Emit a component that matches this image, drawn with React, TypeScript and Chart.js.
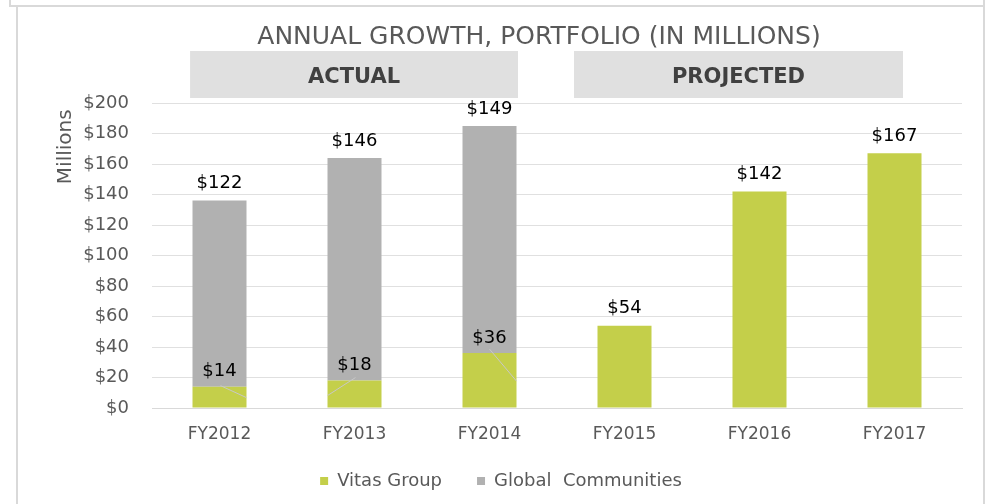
import { useEffect, useRef } from "react";
import { Chart, registerables } from "chart.js";

Chart.register(...registerables);

const categories = ["FY2012", "FY2013", "FY2014", "FY2015", "FY2016", "FY2017"];
const vitasGroup = [14, 18, 36, 54, 142, 167];
const globalCommunities: (number | null)[] = [122, 146, 149, null, null, null];
const headerLabels = ["ACTUAL", "PROJECTED"];
const titleText = "ANNUAL GROWTH, PORTFOLIO (IN MILLIONS)";

const GREEN = "#c4cf4a";
const GRAY = "#b1b1b1";
const TEXT = "#595959";
const FONT = "'DejaVu Sans', Verdana, sans-serif";

const decorPlugin = {
  id: "decor",
  afterLayout(chart: any) {
    // let the category labels draw below the (shortened) x-axis box
    chart.scales.x.bottom += 30;
  },
  afterDraw(chart: any) {
    const ctx = chart.ctx;
    const x = chart.scales.x;
    const area = chart.chartArea;
    const cw = x.getPixelForValue(1) - x.getPixelForValue(0);
    ctx.save();
    // title
    ctx.fillStyle = TEXT;
    ctx.font = `25px ${FONT}`;
    ctx.textAlign = "center";
    ctx.textBaseline = "middle";
    ctx.fillText(titleText, 539, 37);
    // header boxes
    const spans = [
      [x.getPixelForValue(0) - 0.218 * cw, x.getPixelForValue(2) + 0.211 * cw],
      [x.getPixelForValue(3) - 0.374 * cw, x.getPixelForValue(5) + 0.063 * cw],
    ];
    spans.forEach((s, i) => {
      const top = area.top - 52;
      const bottom = area.top - 5;
      ctx.fillStyle = "#e0e0e0";
      ctx.fillRect(s[0], top, s[1] - s[0], bottom - top);
      ctx.fillStyle = "#404040";
      ctx.font = `bold 21px ${FONT}`;
      ctx.fillText(headerLabels[i], (s[0] + s[1]) / 2, (top + bottom) / 2 + 3);
    });
    ctx.restore();
  },
  afterDatasetsDraw(chart: any) {
    const ctx = chart.ctx;
    ctx.save();
    // leader lines for stacked Vitas labels
    const vmeta = chart.getDatasetMeta(0);
    const leaders = [
      [1, -1, 0.5, 11],
      [1, -3, -0.5, 15],
      [0, -4, 0.5, 28],
    ];
    ctx.strokeStyle = "#c8c8c8";
    ctx.lineWidth = 1;
    vmeta.data.forEach((el: any, i: number) => {
      if (globalCommunities[i] == null || !leaders[i]) return;
      const l = leaders[i];
      ctx.beginPath();
      ctx.moveTo(el.x + l[0], el.y + l[1]);
      ctx.lineTo(el.x + l[2] * el.width, el.y + l[3]);
      ctx.stroke();
    });
    ctx.font = `18px ${FONT}`;
    ctx.fillStyle = "#000";
    ctx.textAlign = "center";
    ctx.textBaseline = "middle";
    chart.data.datasets.forEach((ds: any, di: number) => {
      const meta = chart.getDatasetMeta(di);
      meta.data.forEach((el: any, i: number) => {
        const v = ds.data[i];
        if (v == null) return;
        const off = di === 0 && globalCommunities[i] != null ? 15 : 17;
        ctx.fillText(`$${v}`, el.x, el.y - off);
      });
    });
    ctx.restore();
  },
};

export default function App() {
  const ref = useRef<HTMLCanvasElement>(null);
  useEffect(() => {
    if (!ref.current) return;
    const chart = new Chart(ref.current, {
      type: "bar",
      data: {
        labels: categories,
        datasets: [
          {
            label: "Vitas Group",
            data: vitasGroup,
            backgroundColor: GREEN,
            barPercentage: 0.4,
            categoryPercentage: 1,
          },
          {
            label: "Global  Communities",
            data: globalCommunities,
            backgroundColor: GRAY,
            barPercentage: 0.4,
            categoryPercentage: 1,
          },
        ],
      },
      options: {
        animation: false,
        responsive: false,
        layout: { padding: { left: 40, right: 26, top: 103, bottom: 4 } },
        plugins: {
          title: { display: false },
          tooltip: { enabled: false },
          legend: {
            position: "bottom",
            labels: {
              boxWidth: 8,
              boxHeight: 8,
              padding: 35,
              color: TEXT,
              font: { family: FONT, size: 18 },
            },
          },
        },
        scales: {
          x: {
            stacked: true,
            afterFit: (s: any) => {
              s.height = 29;
            },
            grid: { display: false, drawTicks: false },
            border: { color: "#d9d9d9" },
            ticks: { color: TEXT, font: { family: FONT, size: 17 }, padding: 16 },
          },
          y: {
            stacked: true,
            min: 0,
            max: 200,
            afterFit: (s: any) => {
              s.width = 112;
            },
            grid: { color: "#e0e0e0", drawTicks: false },
            border: { display: false },
            ticks: {
              stepSize: 20,
              padding: 23,
              color: TEXT,
              font: { family: FONT, size: 18 },
              callback: (v: any) => `$${v}`,
            },
            title: {
              display: true,
              text: "Millions ",
              align: "end",
              color: TEXT,
              font: { family: FONT, size: 20 },
              padding: { top: 14, bottom: 0 },
            },
          },
        },
      },
      plugins: [decorPlugin],
    });
    return () => chart.destroy();
  }, []);

  const line = (s: any) => <div style={{ position: "absolute", background: "#d9d9d9", ...s }} />;
  return (
    <div style={{ position: "fixed", left: 0, top: 0, width: 988, height: 504, background: "#fff" }}>
      <canvas ref={ref} width={988} height={504} style={{ position: "absolute", left: 0, top: 0 }} />
      {line({ left: 9, top: 5, width: 976, height: 2 })}
      {line({ left: 9, top: 0, width: 2, height: 5 })}
      {line({ left: 16, top: 5, width: 2, height: 499 })}
      {line({ left: 983, top: 0, width: 2, height: 504 })}
    </div>
  );
}
